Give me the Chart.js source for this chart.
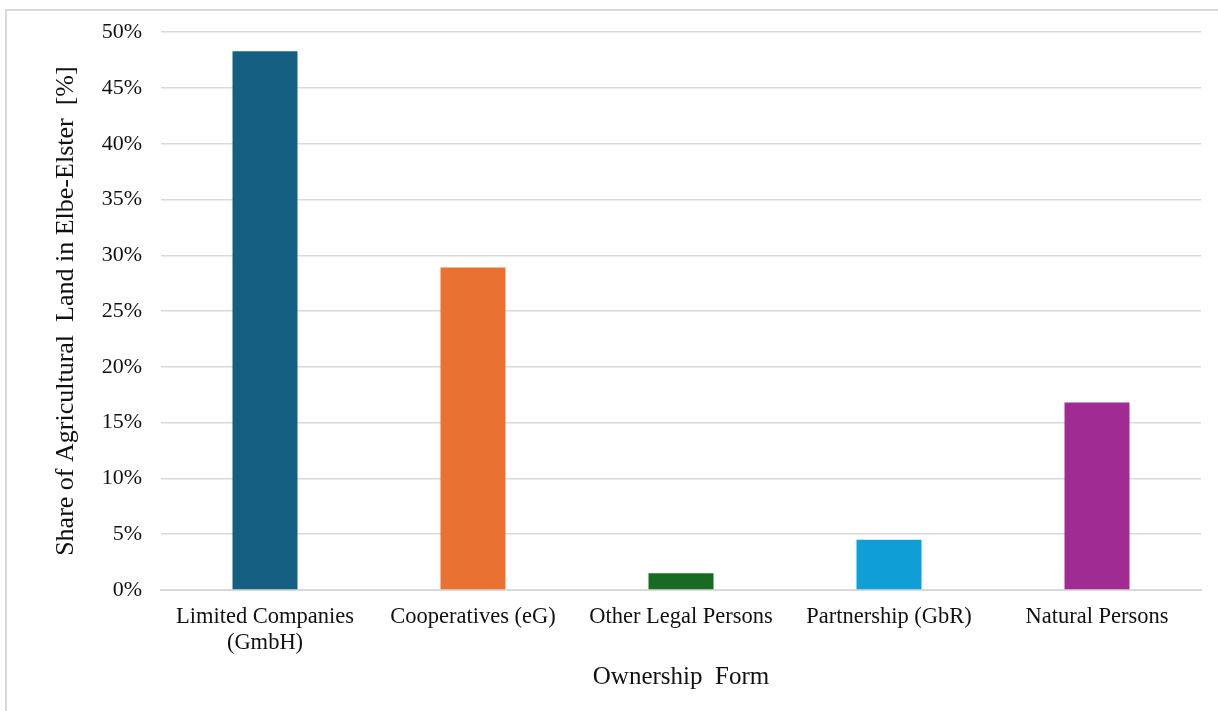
<!DOCTYPE html>
<html lang="en">
<head>
  <meta charset="UTF-8">
  <title>Ownership Form Share</title>
  <script src="https://cdn.jsdelivr.net/npm/chart.js"></script>
  <style>
    * {
      box-sizing: border-box;
      margin: 0;
      padding: 0;
    }
    body {
      background: #fff;
      width: 1218px;
      height: 711px;
      overflow: hidden;
      position: relative;
    }
    .frame {
      position: absolute;
      left: 5px;
      top: 9px;
      width: 1240px;
      height: 740px;
      border: 2px solid #d9d9d9;
    }
    .chart-container {
      position: absolute;
      left: 0;
      top: 0;
      width: 1218px;
      height: 711px;
    }
  </style>
</head>
<body>
  <div class="frame"></div>
  <div class="chart-container">
    <canvas id="shareChart"></canvas>
  </div>

  <script>
    // Data
    const categories = [
      ['Limited Companies', '(GmbH)'],
      'Cooperatives (eG)',
      'Other Legal Persons',
      'Partnership (GbR)',
      'Natural Persons'
    ];
    const shareValues = [48.3, 28.9, 1.5, 4.5, 16.8];
    const barColors = ['#156082', '#e97132', '#196b24', '#0f9ed5', '#a02b93'];
    const yTitle = 'Share of Agricultural  Land in Elbe-Elster  [%]';
    const xTitle = 'Ownership  Form';

    const serif = "'Liberation Serif', 'Times New Roman', serif";
    const textColor = '#111';

    new Chart(document.getElementById('shareChart'), {
      type: 'bar',
      data: {
        labels: categories,
        datasets: [{
          data: shareValues,
          backgroundColor: barColors,
          borderWidth: 0,
          categoryPercentage: 1,
          barPercentage: 0.3125
        }]
      },
      options: {
        responsive: true,
        maintainAspectRatio: false,
        animation: false,
        layout: { padding: { top: 32, right: 17, bottom: 0, left: 0 } },
        plugins: {
          legend: { display: false },
          tooltip: { enabled: false }
        },
        scales: {
          x: {
            grid: { display: false, drawTicks: false },
            border: { display: true, color: '#d9d9d9', width: 2 },
            ticks: {
              color: textColor,
              padding: 14,
              maxRotation: 0,
              autoSkip: false,
              font: { family: serif, size: 22.5, lineHeight: 1.15 }
            },
            title: {
              display: true,
              text: xTitle,
              color: textColor,
              padding: { top: 0, bottom: 19 },
              font: { family: serif, size: 25 }
            },
            afterFit: (scale) => { scale.height = 121; }
          },
          y: {
            min: 0,
            max: 50,
            grid: { color: '#d9d9d9', lineWidth: 1.5, drawTicks: false },
            border: { display: false },
            ticks: {
              stepSize: 5,
              color: textColor,
              padding: 19,
              font: { family: serif, size: 22 },
              callback: (v) => v + '%'
            },
            title: {
              display: true,
              text: yTitle,
              color: textColor,
              padding: { top: 51, bottom: 0 },
              font: { family: serif, size: 26 }
            },
            afterFit: (scale) => { scale.width = 161; }
          }
        }
      }
    });
  </script>
</body>
</html>
